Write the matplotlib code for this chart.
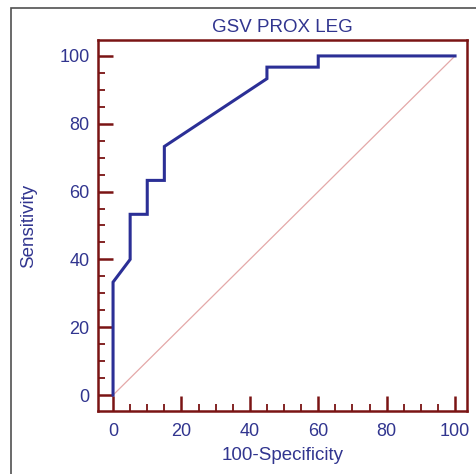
"""ROC curve: GSV PROX LEG."""

import matplotlib
matplotlib.use("Agg")
import matplotlib.pyplot as plt
from matplotlib.patches import Rectangle
from matplotlib.ticker import MultipleLocator

# ROC curve points (100-Specificity, Sensitivity)
fpr = [0, 0, 5, 5, 10, 10, 15, 15, 45, 45, 60, 60, 100]
tpr = [0, 33.3, 40, 53.3, 53.3, 63.3, 63.3, 73.3, 93.3, 96.7, 96.7, 100, 100]
ref_line = [0, 100]
ticks = [0, 20, 40, 60, 80, 100]

TEXT = "#31358f"
SPINE = "#7a1414"
CURVE = "#2b2f96"
DIAG = "#e4a8a8"

plt.rcParams["font.family"] = ["Liberation Sans", "DejaVu Sans"]

fig = plt.figure(figsize=(4.76, 4.74), dpi=100)
# outer frame (only left/top visible in the crop)
fig.patches.append(Rectangle((11 / 476, -0.1), 1.2, 1.1 - 8 / 474,
                             transform=fig.transFigure, fill=False,
                             edgecolor="#505050", linewidth=1.2))

ax = fig.add_axes([98 / 476, 1 - 411 / 474, 369 / 476, 371 / 474])
ax.plot(ref_line, ref_line, color=DIAG, linewidth=0.9)
ax.plot(fpr, tpr, color=CURVE, linewidth=2.2, solid_joinstyle="miter")

ax.set_xlim(-4.4, 103.5)
ax.set_ylim(-4.7, 104.7)
ax.set_xticks(ticks)
ax.set_yticks(ticks)
ax.xaxis.set_minor_locator(MultipleLocator(5))
ax.yaxis.set_minor_locator(MultipleLocator(5))

for s in ax.spines.values():
    s.set_color(SPINE)
    s.set_linewidth(1.8)
ax.tick_params(which="major", direction="in", length=10.5, width=1.8,
               color=SPINE, labelcolor=TEXT, labelsize=13, pad=6)
ax.tick_params(axis="x", which="major", pad=9)
ax.tick_params(which="minor", direction="in", length=5, width=1.3, color=SPINE)
ax.tick_params(top=False, right=False, which="both")

ax.set_title("GSV PROX LEG", color=TEXT, fontsize=13.5, pad=6)
ax.set_xlabel("100-Specificity", color=TEXT, fontsize=13.5, labelpad=5)
ax.set_ylabel("Sensitivity", color=TEXT, fontsize=13.5, labelpad=16)

fig.savefig("out.png", dpi=100)
